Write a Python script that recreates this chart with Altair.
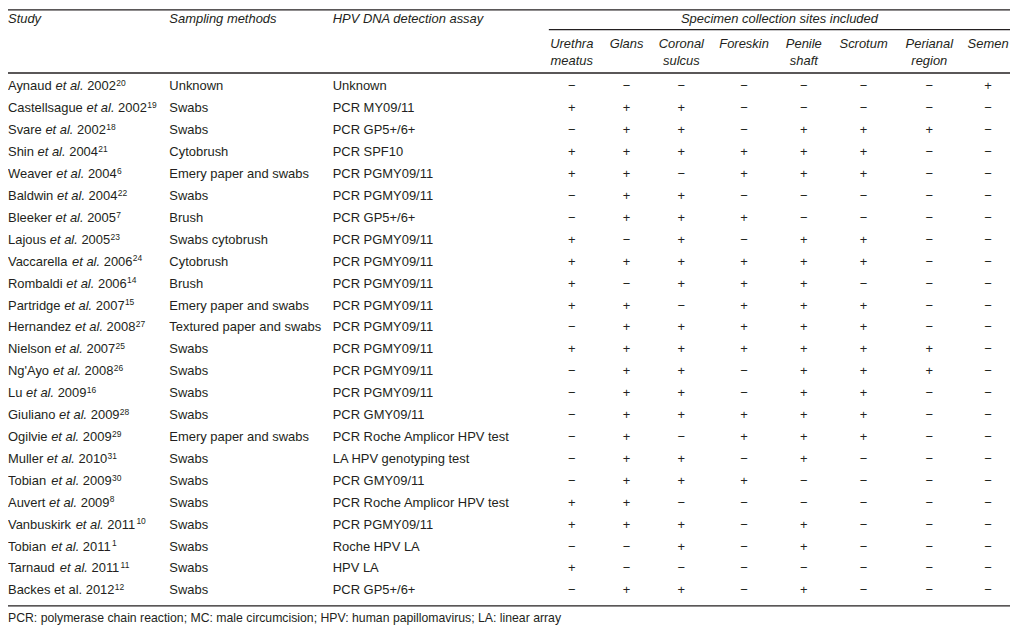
import altair as alt
import pandas as pd

# ---------------- data ----------------
authors = ["Aynaud", "Castellsague", "Svare", "Shin", "Weaver", "Baldwin", "Bleeker",
           "Lajous", "Vaccarella", "Rombaldi", "Partridge", "Hernandez", "Nielson",
           "Ng'Ayo", "Lu", "Giuliano", "Ogilvie", "Muller", "Tobian", "Auvert",
           "Vanbuskirk", "Tobian", "Tarnaud", "Backes"]
years = ["2002", "2002", "2002", "2004", "2004", "2004", "2005", "2005", "2006", "2006",
         "2007", "2008", "2007", "2008", "2009", "2009", "2009", "2010", "2009", "2009",
         "2011", "2011", "2011", "2012"]
refs = ["20", "19", "18", "21", "6", "22", "7", "23", "24", "14", "15", "27", "25", "26",
        "16", "28", "29", "31", "30", "8", "10", "1", "11", "12"]
etal_italic = [True] * 23 + [False]
sampling = ["Unknown", "Swabs", "Swabs", "Cytobrush", "Emery paper and swabs", "Swabs",
            "Brush", "Swabs cytobrush", "Cytobrush", "Brush", "Emery paper and swabs",
            "Textured paper and swabs", "Swabs", "Swabs", "Swabs", "Swabs",
            "Emery paper and swabs", "Swabs", "Swabs", "Swabs", "Swabs", "Swabs",
            "Swabs", "Swabs"]
assays = ["Unknown", "PCR MY09/11", "PCR GP5+/6+", "PCR SPF10", "PCR PGMY09/11",
          "PCR PGMY09/11", "PCR GP5+/6+", "PCR PGMY09/11", "PCR PGMY09/11",
          "PCR PGMY09/11", "PCR PGMY09/11", "PCR PGMY09/11", "PCR PGMY09/11",
          "PCR PGMY09/11", "PCR PGMY09/11", "PCR GMY09/11", "PCR Roche Amplicor HPV test",
          "LA HPV genotyping test", "PCR GMY09/11", "PCR Roche Amplicor HPV test",
          "PCR PGMY09/11", "Roche HPV LA", "HPV LA", "PCR GP5+/6+"]
site_line1 = ["Urethra", "Glans", "Coronal", "Foreskin", "Penile", "Scrotum", "Perianal", "Semen"]
site_line2 = ["meatus", "", "sulcus", "", "shaft", "", "region", ""]
# one string per study, one character per collection site (+ included, − not)
site_marks = ["−−−−−−−+", "+++−−−−−", "−++−+++−", "++++++−−", "++−+++−−", "−++−−−−−",
              "−+++−−−−", "+−+−++−−", "++++++−−", "+−+++−−−", "++−+++−−", "−+++++−−",
              "+++++++−", "−++−+++−", "−++−++−−", "−+++++−−", "−+−+++−−", "−++−+−−−",
              "−+++−−−−", "++−−−−−−", "+++−+−−−", "−−+−+−−−", "+−−−−−−−", "−++−+−−−"]
col_titles = ["Study", "Sampling methods", "HPV DNA detection assay"]
group_title = "Specimen collection sites included"
footnote = ("PCR: polymerase chain reaction; MC: male circumcision; "
            "HPV: human papillomavirus; LA: linear array")

# ---------------- layout ----------------
FONT = "Liberation Sans"
FS = 13
SUP_FS = 8.5
FOOT_FS = 12.3
INK = "#231f20"
W, H = 1006, 621
STUDY_X, SAMP_X, ASSAY_X = 0, 162, 326
SITE_X = [566, 621, 676, 739, 799, 859, 925, 984]
SITES_LEFT, SITES_RIGHT = 543, 1006
ROW0, ROWH = 81.5, 22.0
HEAD_Y, GROUP_RULE_Y, SUB1_Y, SUB2_Y, HEAD_RULE_Y = 13.5, 20.5, 39.2, 56.2, 64
BOTTOM_RULE_Y, FOOT_Y = 599, 615

# Arial / Liberation Sans advance widths (1/1000 em)
ADV = dict(zip("abcdefghijklmnopqrstuvwxyz",
               [556, 556, 500, 556, 556, 278, 556, 556, 222, 222, 500, 222, 833, 556, 556,
                556, 556, 333, 500, 278, 556, 500, 722, 500, 500, 500]))
ADV.update(dict(zip("ABCDEFGHIJKLMNOPQRSTUVWXYZ",
                    [667, 667, 722, 722, 667, 611, 778, 722, 278, 500, 667, 556, 833, 722,
                     778, 667, 778, 722, 667, 611, 722, 667, 944, 667, 667, 611])))
ADV.update({c: 556 for c in "0123456789"})
ADV.update({" ": 278, ".": 278, "'": 191})


def tw(s, fs=FS):
    return sum(ADV.get(c, 556) for c in s) * fs / 1000.0


rows = []
for i, a in enumerate(authors):
    x_et = STUDY_X + tw(a + " ")
    x_yr = x_et + tw("et al. ")
    x_sup = x_yr + tw(years[i]) + 0.3
    rows.append(dict(row=i, author=a, etal="et al.", italic=etal_italic[i],
                     year=years[i], ref=refs[i], x_a=STUDY_X, x_et=x_et,
                     x_yr=x_yr, x_sup=x_sup, samp=sampling[i], assay=assays[i],
                     x_s=SAMP_X, x_as=ASSAY_X))
body = pd.DataFrame(rows)

cells = pd.DataFrame([dict(row=i, site=site_line1[j], mark=m, cx=SITE_X[j])
                      for i, s in enumerate(site_marks) for j, m in enumerate(s)])

rowscale = alt.Scale(domain=[0, len(authors) - 1],
                     range=[ROW0, ROW0 + (len(authors) - 1) * ROWH])
Y = alt.Y("row:Q", scale=rowscale, axis=None)


def body_text(field, xfield, fontSize=FS, **kw):
    return alt.Chart(body).mark_text(align="left", baseline="alphabetic", font=FONT,
                                     fontSize=fontSize, color=INK, **kw).encode(
        x=alt.X(f"{xfield}:Q", scale=None), y=Y, text=f"{field}:N")


layers = []
layers.append(body_text("author", "x_a"))
layers.append(body_text("etal", "x_et", fontStyle="italic").transform_filter("datum.italic"))
layers.append(body_text("etal", "x_et").transform_filter("!datum.italic"))
layers.append(body_text("year", "x_yr"))
layers.append(body_text("ref", "x_sup", fontSize=SUP_FS, dy=-4.3))
layers.append(body_text("samp", "x_s"))
layers.append(body_text("assay", "x_as"))
layers.append(alt.Chart(cells).mark_text(align="center", baseline="alphabetic", font=FONT,
                                         fontSize=FS, color=INK).encode(
    x=alt.X("cx:Q", scale=None), y=Y, text="mark:N"))

# header texts
head = pd.DataFrame(dict(t=col_titles, x=[STUDY_X, SAMP_X, ASSAY_X]))
layers.append(alt.Chart(head).mark_text(align="left", baseline="alphabetic", font=FONT,
                                        fontSize=FS, fontStyle="italic", color=INK).encode(
    x=alt.X("x:Q", scale=None), y=alt.value(HEAD_Y), text="t:N"))
grp = pd.DataFrame(dict(t=[group_title], x=[(SITES_LEFT + SITES_RIGHT) / 2]))
layers.append(alt.Chart(grp).mark_text(align="center", baseline="alphabetic", font=FONT,
                                       fontSize=FS, fontStyle="italic", color=INK).encode(
    x=alt.X("x:Q", scale=None), y=alt.value(HEAD_Y), text="t:N"))
sub = pd.DataFrame(dict(l1=site_line1, l2=site_line2, x=SITE_X))
for fld, yy in (("l1", SUB1_Y), ("l2", SUB2_Y)):
    layers.append(alt.Chart(sub).mark_text(align="center", baseline="alphabetic", font=FONT,
                                           fontSize=FS, fontStyle="italic", color=INK).encode(
        x=alt.X("x:Q", scale=None), y=alt.value(yy), text=f"{fld}:N"))

# footnote
foot = pd.DataFrame(dict(t=[footnote]))
layers.append(alt.Chart(foot).mark_text(align="left", baseline="alphabetic", font=FONT,
                                        fontSize=FOOT_FS, color=INK).encode(
    x=alt.value(STUDY_X), y=alt.value(FOOT_Y), text="t:N"))

# rules
rules = pd.DataFrame(dict(x=[0, SITES_LEFT, 0, 0], x2=[W, SITES_RIGHT, W, W],
                          y=[0.7, GROUP_RULE_Y, HEAD_RULE_Y, BOTTOM_RULE_Y]))
layers.append(alt.Chart(rules).mark_rule(color=INK, strokeWidth=1.3).encode(
    x=alt.X("x:Q", scale=None), x2="x2:Q", y=alt.Y("y:Q", scale=None)))

chart = alt.layer(*layers).properties(
    width=W, height=H, padding=0, autosize=alt.AutoSizeParams(type="none")
).configure_view(stroke=None)

chart.save("out.html", embed_options={"renderer": "svg", "actions": False})
